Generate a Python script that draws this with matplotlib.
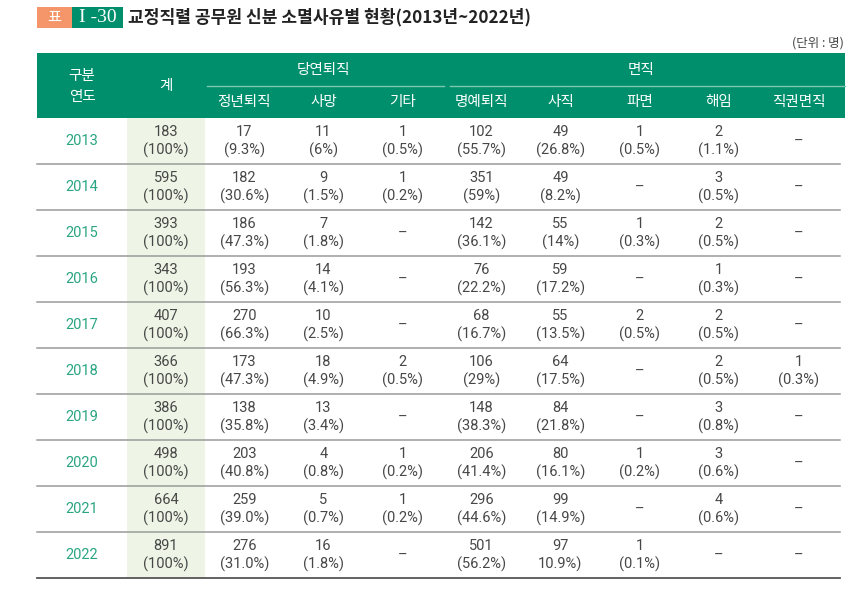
import matplotlib.pyplot as plt
from matplotlib.patches import Rectangle

plt.rcParams['font.family'] = ['Noto Sans CJK KR', 'DejaVu Sans']

# 데이터
years = ['2013', '2014', '2015', '2016', '2017', '2018', '2019', '2020', '2021', '2022']
total = ['183', '595', '393', '343', '407', '366', '386', '498', '664', '891']
total_pct = ['(100%)'] * 10
retire_age = ['17', '182', '186', '193', '270', '173', '138', '203', '259', '276']
retire_age_pct = ['(9.3%)', '(30.6%)', '(47.3%)', '(56.3%)', '(66.3%)', '(47.3%)', '(35.8%)', '(40.8%)', '(39.0%)', '(31.0%)']
death = ['11', '9', '7', '14', '10', '18', '13', '4', '5', '16']
death_pct = ['(6%)', '(1.5%)', '(1.8%)', '(4.1%)', '(2.5%)', '(4.9%)', '(3.4%)', '(0.8%)', '(0.7%)', '(1.8%)']
etc = ['1', '1', None, None, None, '2', None, '1', '1', None]
etc_pct = ['(0.5%)', '(0.2%)', None, None, None, '(0.5%)', None, '(0.2%)', '(0.2%)', None]
honor = ['102', '351', '142', '76', '68', '106', '148', '206', '296', '501']
honor_pct = ['(55.7%)', '(59%)', '(36.1%)', '(22.2%)', '(16.7%)', '(29%)', '(38.3%)', '(41.4%)', '(44.6%)', '(56.2%)']
resign = ['49', '49', '55', '59', '55', '64', '84', '80', '99', '97']
resign_pct = ['(26.8%)', '(8.2%)', '(14%)', '(17.2%)', '(13.5%)', '(17.5%)', '(21.8%)', '(16.1%)', '(14.9%)', '10.9%)']
dismiss = ['1', None, '1', None, '2', None, None, '1', None, '1']
dismiss_pct = ['(0.5%)', None, '(0.3%)', None, '(0.5%)', None, None, '(0.2%)', None, '(0.1%)']
discharge = ['2', '3', '2', '1', '2', '2', '3', '3', '4', None]
discharge_pct = ['(1.1%)', '(0.5%)', '(0.5%)', '(0.3%)', '(0.5%)', '(0.5%)', '(0.8%)', '(0.6%)', '(0.6%)', None]
ex_officio = [None, None, None, None, None, '1', None, None, None, None]
ex_officio_pct = [None, None, None, None, None, '(0.3%)', None, None, None, None]

sub_headers = ['정년퇴직', '사망', '기타', '명예퇴직', '사직', '파면', '해임', '직권면직']

columns = [(total, total_pct), (retire_age, retire_age_pct), (death, death_pct),
           (etc, etc_pct), (honor, honor_pct), (resign, resign_pct),
           (dismiss, dismiss_pct), (discharge, discharge_pct),
           (ex_officio, ex_officio_pct)]

GREEN = '#008f6c'
YEAR_C = '#2aa582'
TXT = '#474747'
NUM_FONT = ['Roboto', 'Noto Sans CJK KR', 'DejaVu Sans']

fig = plt.figure(figsize=(8.5, 6.02), dpi=100)
ax = fig.add_axes([0, 0, 1, 1])
ax.set_xlim(0, 850)
ax.set_ylim(602, 0)
ax.axis('off')

# 제목
ax.add_patch(Rectangle((37, 7), 35, 21, color='#f4956a', lw=0))
ax.add_patch(Rectangle((72, 7), 51, 21, color=GREEN, lw=0))
ax.text(54.5, 17, '표', color='white', fontsize=11, ha='center', va='center')
ax.text(97.5, 17.5, 'I -30', color='white', fontsize=14, ha='center', va='center',
        family='Liberation Serif')
ax.text(128, 17.5, '교정직렬 공무원 신분 소멸사유별 현황(2013년~2022년)', fontsize=12.3,
        fontweight='bold', color='#222222', ha='left', va='center')
ax.text(844, 43, '(단위 : 명)', fontsize=9, color='#444444', ha='right', va='center')

# 열 위치
left, right = 37, 840
bounds = [37, 127, 205, 284, 363, 442, 521, 600, 679, 758, 840]
centers = [(bounds[i] + bounds[i + 1]) / 2 for i in range(len(bounds) - 1)]
top, head_bot, row_h = 53, 118, 46

# 헤더
ax.add_patch(Rectangle((left, top), 845 - left, head_bot - top, color=GREEN, lw=0))
ax.plot([207, 444], [86, 86], color='#7cc7ae', lw=1)
ax.plot([450, 845], [86, 86], color='#7cc7ae', lw=1)
hfs = 10.5
ax.text(centers[0], 76, '구분', color='white', fontsize=hfs, ha='center', va='center')
ax.text(centers[0], 97, '연도', color='white', fontsize=hfs, ha='center', va='center')
ax.text(centers[1], 86, '계', color='white', fontsize=hfs, ha='center', va='center')
ax.text((bounds[2] + bounds[5]) / 2, 70, '당연퇴직', color='white', fontsize=hfs, ha='center', va='center')
ax.text((bounds[5] + bounds[10]) / 2, 70, '면직', color='white', fontsize=hfs, ha='center', va='center')
for i, name in enumerate(sub_headers):
    ax.text(centers[i + 2], 102, name, color='white', fontsize=hfs, ha='center', va='center')

# 계 열 배경
ax.add_patch(Rectangle((bounds[1], head_bot), bounds[2] - bounds[1], row_h * len(years),
                       color='#eef5e6', lw=0))

# 본문
dfs = 10.5
for r, yr in enumerate(years):
    cy = head_bot + row_h * r + row_h / 2
    ax.text(centers[0], cy, yr, color=YEAR_C, fontsize=dfs, ha='center', va='center',
            family=NUM_FONT)
    for c, (vals, pcts) in enumerate(columns):
        x = centers[c + 1]
        if vals[r] is None:
            ax.text(x, cy + 1, '–', color=TXT, fontsize=dfs, ha='center', va='center',
                    family=NUM_FONT)
        else:
            ax.text(x, cy - 9.5, vals[r], color=TXT, fontsize=dfs, ha='center', va='center',
                    family=NUM_FONT)
            ax.text(x, cy + 9.5, pcts[r], color=TXT, fontsize=dfs, ha='center', va='center',
                    family=NUM_FONT)
    yline = head_bot + row_h * (r + 1)
    last = r == len(years) - 1
    ax.plot([left, right], [yline, yline], color='#555555' if last else '#9a9a9a',
            lw=1.3 if last else 1.1)

fig.savefig('out.png', dpi=100)
